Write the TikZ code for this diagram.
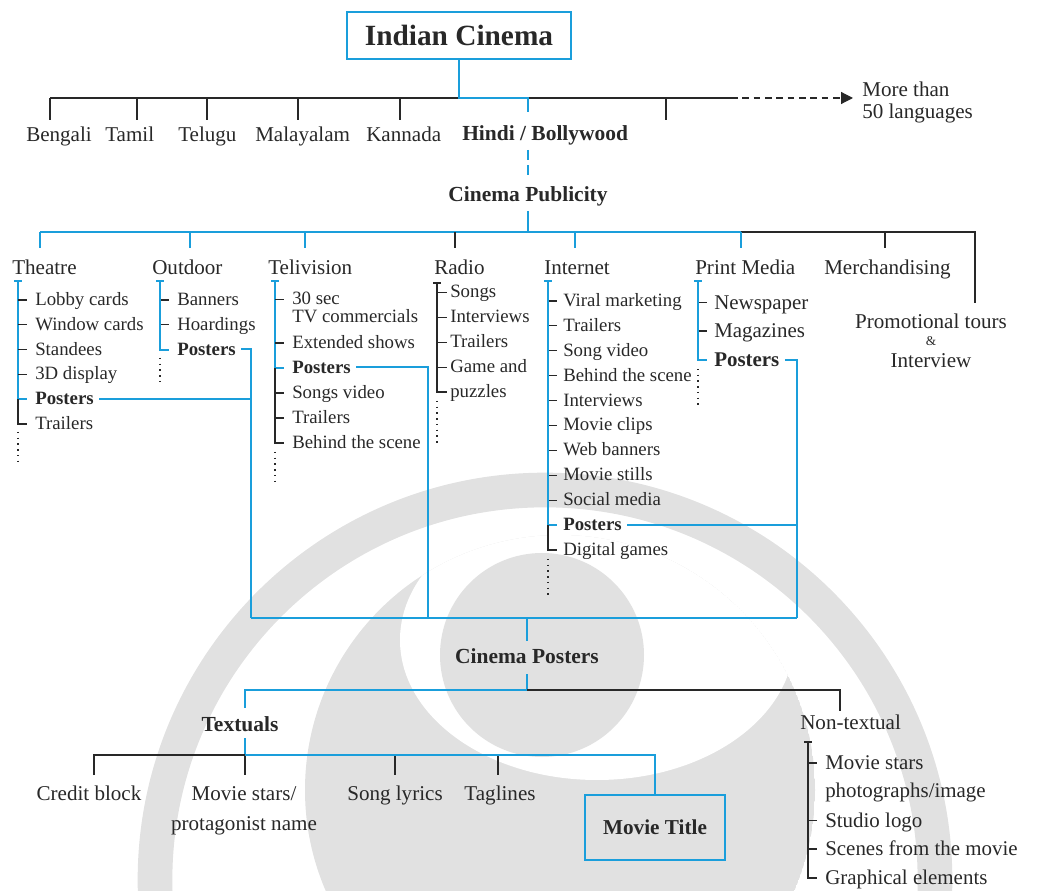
\documentclass[tikz,border=0pt]{standalone}
\usepackage{fontspec}
\setmainfont{Liberation Serif}
\usetikzlibrary{arrows.meta}
\definecolor{cblue}{RGB}{26,158,219}
\definecolor{ink}{RGB}{40,40,40}
\definecolor{wmark}{RGB}{225,225,225}
\newcommand{\myfs}[1]{\fontsize{#1}{#1}\selectfont}
\tikzset{
  bl/.style={draw=cblue, line width=1.5pt},
  kl/.style={draw=ink, line width=0.9pt},
  dotl/.style={draw=ink, line width=1.1pt, dash pattern=on 1.1pt off 3.2pt},
  % large labels: the given y is the middle of the x-height
  lw/.style={anchor=base west, inner sep=0pt, text=ink, font=\myfs{15.8}, yshift=-4.9pt},
  lbase/.style={anchor=base, inner sep=0pt, text=ink, font=\myfs{15.8}},
  hd/.style={anchor=base, inner sep=0pt, text=ink, font=\myfs{16.1}\bfseries},
  % list items: the given y is the row of the tick
  itm/.style={anchor=base west, inner sep=0pt, text=ink, font=\myfs{14.1}, yshift=-4.1pt},
  bitm/.style={itm, font=\myfs{14.1}\bfseries},
  itmL/.style={itm, font=\myfs{15.7}, yshift=-0.8pt},
  bitmL/.style={itmL, font=\myfs{15.7}\bfseries},
  framed/.style={draw=cblue, line width=1.8pt, inner sep=0pt, text=ink},
}
\begin{document}
\begin{tikzpicture}[x=0.75pt,y=-0.75pt]
\useasboundingbox (0,0) rectangle (1051,891);

% faint emblem in the background
\begin{scope}
  \clip (0,0) rectangle (1051,891);
  \begin{scope}
    \clip (560,790) circle[radius=255];
    \fill[wmark] (560,790) circle[radius=255];
    \fill[white] (597,640) ellipse[x radius=197, y radius=140];
  \end{scope}
  \draw[wmark, line width=26pt] (545,880) circle[radius=390];
  \fill[wmark] (542,655) circle[radius=102];
\end{scope}

% ---------- root and languages ----------
\node[framed, minimum width=168pt, minimum height=35pt, font=\myfs{22}\bfseries] (title) at (459,35.5) {Indian Cinema};

\coordinate (lb) at (50,98);
\coordinate (le) at (731,98);
\coordinate (la) at (853,98);
\draw[kl] (lb) -- (le);
\draw[kl, dash pattern=on 5pt off 3.5pt, -{Triangle[length=9pt,width=9pt]}] (le) -- (la);
\foreach \x in {50,137,207,298,400,666} \draw[kl] (\x,98) -- (\x,120);

\node[lw] (more1) at (862,89.5) {More than};
\node[lw] (more2) at (862,111.5) {50 languages};

\foreach \n/\x/\t in {bn/26/Bengali, ta/105/Tamil, te/178/Telugu, ml/255/Malayalam, kn/366/Kannada}
  \node[lw] (\n) at (\x,134.5) {\t};
\node[lw, font=\myfs{16.1}\bfseries] (hindi) at (462,134) {Hindi / Bollywood};

\coordinate (hb) at (528,98);
\draw[bl] (title.south) |- (hb) -- (528,112);
\node[hd] (pub) at (528,202) {Cinema Publicity};
\draw[bl, dash pattern=on 7.5pt off 4pt] (528,150) -- (528,178);

% ---------- publicity channels ----------
\draw[bl] (528,211) -- (528,232);
\draw[kl] (741,232) -- (975,232) -- (975,303);
\draw[bl] (40,232) -- (741,232);
\foreach \x in {40,190,305,575,741} \draw[bl] (\x,232) -- (\x,248);
\foreach \x in {455,885} \draw[kl] (\x,232) -- (\x,248);

\foreach \n/\x/\t in {cth/12/Theatre, cod/152/Outdoor, ctv/268/Telivision, crd/434/Radio, cin/544/Internet, cpm/695/Print Media, cmd/824/Merchandising}
  \node[lw] (\n) at (\x,267.5) {\t};

\node[lbase] (promo1) at (931,329) {Promotional tours};
\node[lbase, font=\myfs{10}] (promo2) at (931,346) {\&};
\node[lbase] (promo3) at (931,368) {Interview};

% Theatre
\draw[bl] (14,281) -- (22,281);
\draw[bl] (18,281) -- (18,399.2);
\foreach \t/\y [count=\i] in {Lobby cards/300, Window cards/324.8, Standees/349.6, 3D display/374.4}{
  \node[itm] (th\i) at (35,\y) {\t};
  \draw[kl] (18,\y) -- (27,\y);
}
\node[bitm] (thp) at (35,399.2) {Posters};
\draw[bl] (18,399.2) -- (27,399.2);
\node[itm] (th6) at (35,424) {Trailers};
\draw[kl] (18,399.2) -- (18,424) -- (27,424);
\draw[dotl] (18,432) -- (18,463);

% Outdoor
\draw[bl] (156,281) -- (164,281);
\foreach \t/\y [count=\i] in {Banners/300, Hoardings/324.8}{
  \node[itm] (od\i) at (177,\y) {\t};
  \draw[kl] (160,\y) -- (169,\y);
}
\node[bitm] (odp) at (177,349.6) {Posters};
\draw[bl] (160,281) -- (160,349.6) -- (169,349.6);
\draw[dotl] (160,358) -- (160,386);

% Television
\draw[bl] (271,281) -- (279,281);
\node[itm] (tv1) at (292,299.5) {30 sec};
\node[itm] (tv1b) at (292,317) {TV commercials};
\node[itm] (tv2) at (292,343) {Extended shows};
\node[bitm] (tvp) at (292,368) {Posters};
\node[itm] (tv3) at (292,393) {Songs video};
\node[itm] (tv4) at (292,418) {Trailers};
\node[itm] (tv5) at (292,443) {Behind the scene};
\draw[bl] (275,281) -- (275,368) -- (284,368);
\foreach \y in {299.5,343,393,418} \draw[kl] (275,\y) -- (284,\y);
\draw[kl] (275,368) -- (275,443) -- (284,443);
\draw[dotl] (275,452) -- (275,482);

% Radio
\draw[kl] (433,283) -- (441,283);
\foreach \t/\y [count=\i] in {Songs/292.5, Interviews/317.4, Trailers/342.3, Game and/367.2}{
  \node[itm] (rd\i) at (450,\y) {\t};
  \draw[kl] (437,\y) -- (447,\y);
}
\node[itm] (rd5) at (450,392) {puzzles};
\draw[kl] (437,283) -- (437,392) -- (447,392);
\draw[dotl] (437,401) -- (437,446);

% Internet
\draw[bl] (544,281) -- (552,281);
\foreach \t [count=\i] in {Viral marketing, Trailers, Song video, Behind the scene, Interviews, Movie clips, Web banners, Movie stills, Social media}{
  \pgfmathsetmacro{\yy}{301+24.9*(\i-1)}
  \node[itm] (in\i) at (563,\yy) {\t};
  \draw[kl] (548,\yy) -- (557,\yy);
}
\node[bitm] (inp) at (563,525.1) {Posters};
\node[itm] (in10) at (563,550) {Digital games};
\draw[bl] (548,281) -- (548,525.1) -- (557,525.1);
\draw[kl] (548,525.1) -- (548,550) -- (557,550);
\draw[dotl] (548,559) -- (548,599);

% Print media
\draw[bl] (694,281) -- (702,281);
\foreach \t/\y [count=\i] in {Newspaper/302.8, Magazines/331}{
  \node[itmL] (pm\i) at (714,\y) {\t};
  \draw[kl] (698,\y) -- (707,\y);
}
\node[bitmL] (pmp) at (714,360) {Posters};
\draw[bl] (698,281) -- (698,360) -- (707,360);
\draw[dotl] (698,369) -- (698,409);

% ---------- poster routes ----------
\coordinate (jA) at (251,618);
\coordinate (jB) at (428,618);
\coordinate (jC) at (797,618);
\coordinate (jP) at (527,618);
\draw[bl] ([xshift=4pt]odp.east) -| (jA);
\draw[bl] ([xshift=4pt]thp.east) -- (thp.east -| jA);
\draw[bl] ([xshift=4pt]tvp.east) -| (jB);
\draw[bl] ([xshift=4pt]pmp.east) -| (jC);
\draw[bl] ([xshift=4pt]inp.east) -- (inp.east -| jC);
\draw[bl] (jA) -- (jC);

\node[hd] (cpost) at (527,663) {Cinema Posters};
\draw[bl] (jP) -- (527,641);

% ---------- poster elements ----------
\coordinate (pb) at (527,690);
\draw[bl] (527,674) -- (pb);
\draw[kl] (pb) -| (840,711);
\draw[bl] (pb) -| (245,708);
\node[hd] (txt) at (240,731) {Textuals};
\node[lbase, anchor=base west] (ntx) at (800,729) {Non-textual};

\coordinate (tb) at (245,755);
\draw[bl] (245,738) -- (tb);
\draw[kl] (94,775) |- (tb) -- (245,775);
\foreach \x in {395,498} \draw[kl] (\x,755) -- (\x,775);

\node[framed, minimum width=105pt, minimum height=48.75pt, font=\myfs{15.9}\bfseries] (mtitle) at (655,827.5) {Movie Title};
\draw[bl] (tb) -| (mtitle.north);

\node[lbase] (credit) at (89,800) {Credit block};
\node[lbase] (stars1) at (244,800) {Movie stars/};
\node[lbase] (stars2) at (244,830) {protagonist name};
\node[lbase] (lyrics) at (395,800) {Song lyrics};
\node[lbase] (tags) at (500,800) {Taglines};

% Non-textual
\draw[kl] (804,742) -- (812,742);
\foreach \t/\y [count=\i] in {Movie stars/763, Studio logo/820.5, Scenes from the movie/849}{
  \node[itmL] (nt\i) at (825,\y) {\t};
  \draw[kl] (808,\y) -- (817,\y);
}
\node[itmL] (nt1b) at (825,791) {photographs/image};
\node[itmL] (nt4) at (825,878) {Graphical elements};
\draw[kl] (808,742) -- (808,878) -- (817,878);

\end{tikzpicture}
\end{document}
